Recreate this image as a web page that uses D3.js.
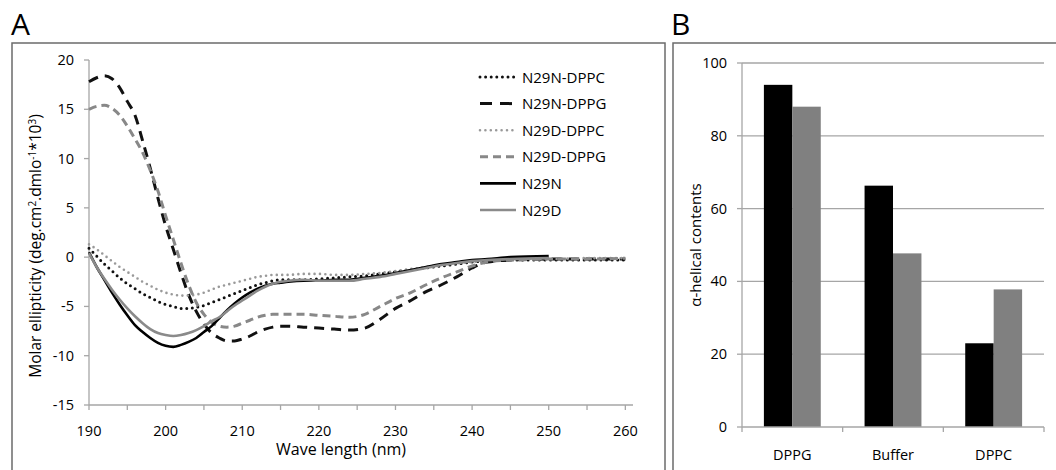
<!DOCTYPE html>
<html>
<head>
<meta charset="utf-8">
<script src="https://cdn.jsdelivr.net/npm/d3@7"></script>
<style>
  body { margin: 0; background: #fff; }
  svg { display: block; font-family: "Open Sans", sans-serif; }
</style>
</head>
<body>
<svg id="chart" width="1056" height="470"></svg>
<script>
// ── Panel A: CD spectra ──
const wavelengths = [190, 191, 192, 193, 194, 195, 196, 197, 198, 199, 200, 201, 202, 203, 204, 205, 206, 207, 208, 209, 210, 211, 212, 213, 214, 215,
  216, 218, 220, 222, 224, 226, 228, 230, 232, 234, 236, 238, 240, 242, 245, 250, 255, 260];

const n29nDppc = [0.9, 0.1, -0.7, -1.4, -2.1, -2.7, -3.2, -3.7, -4.1, -4.5, -4.8, -5.0, -5.2, -5.2, -5.1, -4.9, -4.6, -4.3, -4.0, -3.7, -3.4, -3.1, -2.8, -2.6, -2.4, -2.3,
  -2.3, -2.3, -2.2, -2.1, -2.0, -1.9, -1.7, -1.5, -1.3, -1.1, -0.9, -0.7, -0.5, -0.4, -0.3, -0.3, -0.3, -0.3];
const n29nDppg = [17.8, 18.2, 18.4, 18.1, 17.2, 15.8, 14.4, 11.8, 9.0, 6.0, 3.2, 0.8, -1.6, -3.8, -5.5, -6.8, -7.7, -8.2, -8.5, -8.5, -8.3, -8.0, -7.6, -7.3, -7.1, -7.0,
  -7.0, -7.1, -7.2, -7.3, -7.4, -7.2, -6.3, -5.2, -4.4, -3.5, -2.8, -2.0, -1.1, -0.5, -0.3, -0.2, -0.2, -0.2];
const n29dDppc = [1.3, 0.8, 0.2, -0.4, -1.0, -1.5, -2.0, -2.5, -2.9, -3.3, -3.6, -3.8, -3.9, -3.9, -3.8, -3.6, -3.3, -3.0, -2.8, -2.6, -2.4, -2.2, -2.0, -1.9, -1.8, -1.8,
  -1.8, -1.7, -1.7, -1.8, -1.8, -1.7, -1.6, -1.4, -1.2, -1.0, -0.8, -0.6, -0.5, -0.3, -0.2, -0.2, -0.1, -0.1];
const n29dDppg = [15.0, 15.3, 15.4, 15.1, 14.4, 13.3, 12.0, 10.6, 8.8, 6.7, 4.2, 1.8, -0.6, -2.8, -4.6, -5.8, -6.6, -7.0, -7.1, -7.0, -6.7, -6.4, -6.1, -5.9, -5.8, -5.8,
  -5.8, -5.8, -5.9, -6.0, -6.1, -5.8, -5.0, -4.2, -3.6, -2.8, -2.1, -1.5, -0.9, -0.5, -0.3, -0.2, -0.2, -0.1];
const n29n = [0.5, -1.0, -2.3, -3.6, -4.8, -5.9, -6.9, -7.6, -8.2, -8.7, -9.0, -9.1, -8.9, -8.6, -8.2, -7.6, -7.0, -6.2, -5.4, -4.7, -4.1, -3.6, -3.2, -2.9, -2.7, -2.6,
  -2.5, -2.4, -2.4, -2.3, -2.3, -2.1, -1.9, -1.6, -1.3, -1.0, -0.7, -0.5, -0.3, -0.2, 0.0, 0.1, null, null];
const n29d = [0.4, -1.0, -2.2, -3.3, -4.3, -5.2, -6.0, -6.7, -7.3, -7.7, -7.9, -8.0, -7.9, -7.7, -7.4, -7.0, -6.5, -6.1, -5.5, -4.9, -4.4, -3.9, -3.4, -3.0, -2.7, -2.5,
  -2.4, -2.3, -2.4, -2.4, -2.4, -2.2, -2.0, -1.7, -1.4, -1.1, -0.8, -0.6, -0.4, -0.3, -0.2, -0.1, null, null];

const seriesNames = ["N29N-DPPC", "N29N-DPPG", "N29D-DPPC", "N29D-DPPG", "N29N", "N29D"];
const seriesValues = [n29nDppc, n29nDppg, n29dDppc, n29dDppg, n29n, n29d];
const yTicksA = [20, 15, 10, 5, 0, -5, -10, -15];
const xTicksA = [190, 200, 210, 220, 230, 240, 250, 260];

// ── Panel B: helical content ──
const conditions = ["DPPG", "Buffer", "DPPC"];
const helixN29N = [94, 66.3, 23];
const helixN29D = [88, 47.7, 37.8];
const yTicksB = [0, 20, 40, 60, 80, 100];

// line styles, in series order
const styles = [
  { color: "#111", width: 3, dash: "0,5.6", cap: "round" },
  { color: "#111", width: 3, dash: "10,7", cap: "butt" },
  { color: "#999", width: 2.6, dash: "0,5.4", cap: "round" },
  { color: "#888", width: 3, dash: "8,5", cap: "butt" },
  { color: "#000", width: 2.6, dash: null, cap: "butt" },
  { color: "#8a8a8a", width: 2.6, dash: null, cap: "butt" },
];

const svg = d3.select("#chart");
const axisColor = "#a6a6a6";
const frameColor = "#6b6b6b";

// panel frames and letters
svg.append("rect").attr("x", 12).attr("y", 43).attr("width", 653).attr("height", 440)
  .attr("fill", "none").attr("stroke", frameColor).attr("stroke-width", 1.5);
svg.append("rect").attr("x", 673).attr("y", 43).attr("width", 400).attr("height", 440)
  .attr("fill", "none").attr("stroke", frameColor).attr("stroke-width", 1.5);
svg.append("text").attr("x", 11).attr("y", 35).attr("font-size", 30).text("A");
svg.append("text").attr("x", 671).attr("y", 35).attr("font-size", 30).text("B");

// ── Panel A ──
const xA = d3.scaleLinear().domain([190, 261]).range([89, 633]);
const yA = d3.scaleLinear().domain([-15, 20]).range([405, 60]);

const gA = svg.append("g");

// x axis with minor ticks every 5
gA.append("line").attr("x1", xA(190)).attr("x2", xA(261)).attr("y1", yA(-15)).attr("y2", yA(-15))
  .attr("stroke", axisColor).attr("stroke-width", 1.3);
gA.selectAll(".xtick").data(d3.range(190, 261, 5)).join("line")
  .attr("x1", (d) => xA(d)).attr("x2", (d) => xA(d))
  .attr("y1", yA(-15)).attr("y2", yA(-15) + 5)
  .attr("stroke", axisColor).attr("stroke-width", 1.3);
gA.selectAll(".xlabel").data(xTicksA).join("text")
  .attr("x", (d) => xA(d)).attr("y", yA(-15) + 31)
  .attr("text-anchor", "middle").attr("font-size", 14.5).text((d) => d);

// y axis
gA.append("line").attr("x1", xA(190)).attr("x2", xA(190)).attr("y1", yA(20)).attr("y2", yA(-15))
  .attr("stroke", axisColor).attr("stroke-width", 1.3);
gA.selectAll(".ytick").data(yTicksA).join("line")
  .attr("x1", xA(190) - 5).attr("x2", xA(190))
  .attr("y1", (d) => yA(d)).attr("y2", (d) => yA(d))
  .attr("stroke", axisColor).attr("stroke-width", 1.3);
gA.selectAll(".ylabel").data(yTicksA).join("text")
  .attr("x", xA(190) - 15).attr("y", (d) => yA(d) + 5)
  .attr("text-anchor", "end").attr("font-size", 14.5).text((d) => d);

gA.append("text").attr("x", 341).attr("y", 455)
  .attr("text-anchor", "middle").attr("font-size", 16).text("Wave length (nm)");
const yTitleA = gA.append("text").attr("transform", "translate(41,246) rotate(-90)")
  .attr("text-anchor", "middle").attr("font-size", 15.5);
yTitleA.append("tspan").text("Molar ellipticity (deg.cm");
yTitleA.append("tspan").attr("dy", -5).attr("font-size", 10).text("2");
yTitleA.append("tspan").attr("dy", 5).text(".dmlo");
yTitleA.append("tspan").attr("dy", -5).attr("font-size", 10).text("-1");
yTitleA.append("tspan").attr("dy", 5).text("*10");
yTitleA.append("tspan").attr("dy", -5).attr("font-size", 10).text("3");
yTitleA.append("tspan").attr("dy", 5).text(")");

const line = d3.line()
  .defined((d) => d.v != null)
  .x((d) => xA(d.w))
  .y((d) => yA(d.v))
  .curve(d3.curveMonotoneX);

seriesValues.forEach((values, i) => {
  const pts = wavelengths.map((w, k) => ({ w, v: values[k] }));
  const st = styles[i];
  gA.append("path").datum(pts)
    .attr("d", line)
    .attr("fill", "none")
    .attr("stroke", st.color)
    .attr("stroke-width", st.width)
    .attr("stroke-linecap", st.cap)
    .attr("stroke-dasharray", st.dash);
});

// legend
const legend = gA.append("g");
seriesNames.forEach((name, i) => {
  const ly = 77 + i * 26.6;
  const st = styles[i];
  legend.append("line").attr("x1", 480).attr("x2", 516).attr("y1", ly).attr("y2", ly)
    .attr("stroke", st.color).attr("stroke-width", st.width)
    .attr("stroke-linecap", st.cap)
    .attr("stroke-dasharray", i === 1 ? "12,8" : i === 3 ? "8,5" : st.dash);
  legend.append("text").attr("x", 522).attr("y", ly + 5.5).attr("font-size", 15).text(name);
});

// ── Panel B ──
const x0 = d3.scaleBand().domain(conditions).range([742, 1044]).padding(0);
const x1 = d3.scaleBand().domain(["N29N", "N29D"]).range([0, x0.bandwidth()]).paddingInner(0).paddingOuter(0.77);
const yB = d3.scaleLinear().domain([0, 100]).range([427, 63]);

const gB = svg.append("g");
gB.selectAll(".grid").data(yTicksB.filter((d) => d > 0)).join("line")
  .attr("x1", 742).attr("x2", 1044)
  .attr("y1", (d) => yB(d)).attr("y2", (d) => yB(d))
  .attr("stroke", axisColor).attr("stroke-width", 1.3);
gB.append("line").attr("x1", 742).attr("x2", 742).attr("y1", yB(100)).attr("y2", yB(0))
  .attr("stroke", axisColor).attr("stroke-width", 1.3);
gB.selectAll(".ytickB").data(yTicksB).join("line")
  .attr("x1", 737).attr("x2", 742)
  .attr("y1", (d) => yB(d)).attr("y2", (d) => yB(d))
  .attr("stroke", axisColor).attr("stroke-width", 1.3);
gB.selectAll(".ylabelB").data(yTicksB).join("text")
  .attr("x", 727).attr("y", (d) => yB(d) + 5)
  .attr("text-anchor", "end").attr("font-size", 14.5).text((d) => d);

const barsN = [helixN29N, helixN29D];
const barColors = ["#000", "#808080"];
["N29N", "N29D"].forEach((s, si) => {
  gB.selectAll(`.bar${si}`).data(conditions).join("rect")
    .attr("x", (c) => x0(c) + x1(s))
    .attr("width", x1.bandwidth())
    .attr("y", (c, ci) => yB(barsN[si][ci]))
    .attr("height", (c, ci) => yB(0) - yB(barsN[si][ci]))
    .attr("fill", barColors[si]);
});

gB.append("line").attr("x1", 742).attr("x2", 1044).attr("y1", yB(0)).attr("y2", yB(0))
  .attr("stroke", axisColor).attr("stroke-width", 1.3);
gB.selectAll(".xtickB").data([742, ...conditions.map((c) => x0(c) + x0.bandwidth())]).join("line")
  .attr("x1", (d) => d).attr("x2", (d) => d)
  .attr("y1", yB(0)).attr("y2", yB(0) + 5)
  .attr("stroke", axisColor).attr("stroke-width", 1.3);
gB.selectAll(".xlabelB").data(conditions).join("text")
  .attr("x", (c) => x0(c) + x0.bandwidth() / 2).attr("y", 460)
  .attr("text-anchor", "middle").attr("font-size", 14.5).text((c) => c);

gB.append("text").attr("transform", `translate(701,${yB(50)}) rotate(-90)`)
  .attr("text-anchor", "middle").attr("font-size", 15).text("α-helical contents");
</script>
</body>
</html>
